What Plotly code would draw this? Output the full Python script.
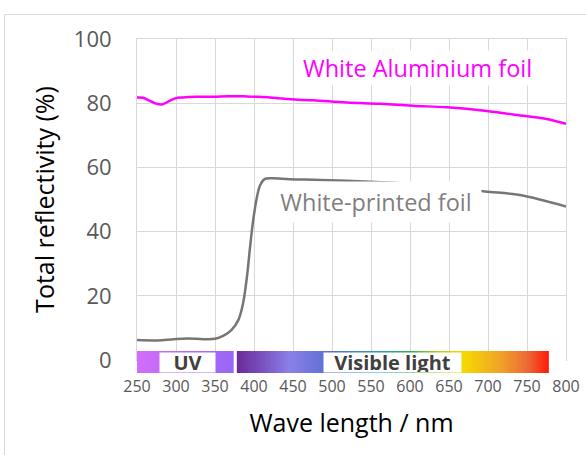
import numpy as np
import plotly.graph_objects as go

# ---- data ----
alu_wl = [250, 258, 264, 273, 282, 290, 299, 309, 326, 348, 367, 391, 403, 420, 433,
          442, 476, 519, 561, 604, 647, 690, 732, 775, 800]
alu_val = [81.8, 81.7, 81.0, 80.0, 79.6, 80.5, 81.5, 81.8, 82.0, 82.0, 82.2, 82.1, 82.0, 81.8, 81.5,
           81.3, 80.9, 80.2, 79.8, 79.2, 78.7, 77.8, 76.5, 75.1, 73.6]

wp_wl = [250, 276, 297, 314, 335, 350, 361, 371, 380, 386, 391, 395, 399, 403.5, 408,
         414, 425, 446, 485, 549, 594, 640, 696, 741, 800]
wp_val = [6.2, 6.1, 6.5, 6.7, 6.5, 6.6, 7.6, 9.3, 12.5, 17.7, 26.0, 35.3, 43.6, 50.4, 54.5,
          56.4, 56.6, 56.3, 56.1, 55.5, 55.0, 54.0, 52.5, 51.4, 47.8]

x_ticks = list(range(250, 801, 50))
y_ticks = [0, 20, 40, 60, 80, 100]

# spectral bands (wavelength range and colour stops)
uv_range = [247, 374]
uv_stops = [(247, "#d46ef9"), (374, "#9866f6")]
vis_range = [378, 778]
vis_stops = [(378, "#6a2a98"), (410, "#7a50c0"), (446, "#8a80e8"), (497, "#5a6ed2"),
             (560, "#2aa0b0"), (600, "#2ab04a"), (640, "#b8d020"), (670, "#f6d800"),
             (715, "#f0a428"), (750, "#ec6a36"), (778, "#ff1a08")]

FONT = "Open Sans"


def band_trace(rng, stops, n=200):
    edges = np.linspace(rng[0], rng[1], n + 1)
    centers = (edges[:-1] + edges[1:]) / 2
    lo, hi = stops[0][0], stops[-1][0]
    cs = [[(w - lo) / (hi - lo), c] for w, c in stops]
    return go.Heatmap(x=edges, y=[2, 24], z=[centers], colorscale=cs, zmin=lo, zmax=hi,
                      showscale=False, hoverinfo="skip", xaxis="x2", yaxis="y2")


fig = go.Figure()
fig.add_trace(go.Scatter(x=alu_wl, y=alu_val, mode="lines", line=dict(color="#ff00ff", width=2.5),
                         line_shape="spline", name="White Aluminium foil"))
fig.add_trace(go.Scatter(x=wp_wl, y=wp_val, mode="lines", line=dict(color="#767676", width=2.5),
                         line_shape="spline", name="White-printed foil"))
fig.add_trace(band_trace(uv_range, uv_stops))
fig.add_trace(band_trace(vis_range, vis_stops))

grid = "#d9d9d9"
fig.update_layout(
    width=586, height=455,
    margin=dict(l=137, r=20, t=39, b=80, autoexpand=False),
    paper_bgcolor="white", plot_bgcolor="white",
    showlegend=False,
    font=dict(family=FONT, color="#595959"),
    xaxis=dict(range=[250, 800], tickvals=x_ticks, showticklabels=False, showgrid=True,
               gridcolor=grid, gridwidth=1, zeroline=False, anchor="y", automargin=False,
               showline=True, linecolor=grid, mirror=True),
    yaxis=dict(domain=[15 / 336, 1], range=[0, 100], tickvals=y_ticks, showgrid=True,
               gridcolor=grid, zeroline=False, tickfont=dict(size=22, color="#595959"),
               ticklabelstandoff=20, showline=True, linecolor=grid, mirror=True, automargin=False,
               title=dict(text="Total reflectivity (%)", font=dict(size=25, color="black"),
                          standoff=12)),
    xaxis2=dict(range=[250, 800], matches="x", tickvals=x_ticks, showgrid=False, zeroline=False,
                anchor="y2", tickfont=dict(size=16, color="#595959"), automargin=False,
                title=dict(text="Wave length / nm", font=dict(size=25, color="black"), standoff=18)),
    yaxis2=dict(domain=[0, 24 / 336], range=[0, 24], visible=False, fixedrange=True,
                automargin=False),
)

# series labels
fig.add_annotation(x=609, y=91, xref="x", yref="y", text="White Aluminium foil", showarrow=False,
                   font=dict(size=23.5, color="#ff00ff", family=FONT), bgcolor="white")
fig.add_annotation(x=557, y=49.2, xref="x", yref="y", text="White-printed foil", showarrow=False,
                   font=dict(size=23.5, color="#7f7f7f", family=FONT), bgcolor="white",
                   width=208, height=38)

# band labels
fig.add_annotation(x=315, y=13, xref="x2", yref="y2", text="<b>UV</b>",
                   showarrow=False, font=dict(size=20, color="#404040", family=FONT),
                   bgcolor="white", width=55, height=19, borderpad=0)
fig.add_annotation(x=578, y=13, xref="x2", yref="y2", text="<b>Visible light</b>",
                   showarrow=False, font=dict(size=20, color="#404040", family=FONT),
                   bgcolor="white", width=137, height=19, borderpad=0)

# outer chart border
fig.add_shape(type="rect", xref="paper", yref="paper", x0=(4.5 - 137) / 429, x1=1.2,
              y0=-0.5, y1=(375 - 14.5) / 336, line=dict(color=grid, width=1), fillcolor="rgba(0,0,0,0)",
              layer="below")

fig.write_html("out.html", config={"displayModeBar": False},
               post_script="document.body.style.margin='0';")
